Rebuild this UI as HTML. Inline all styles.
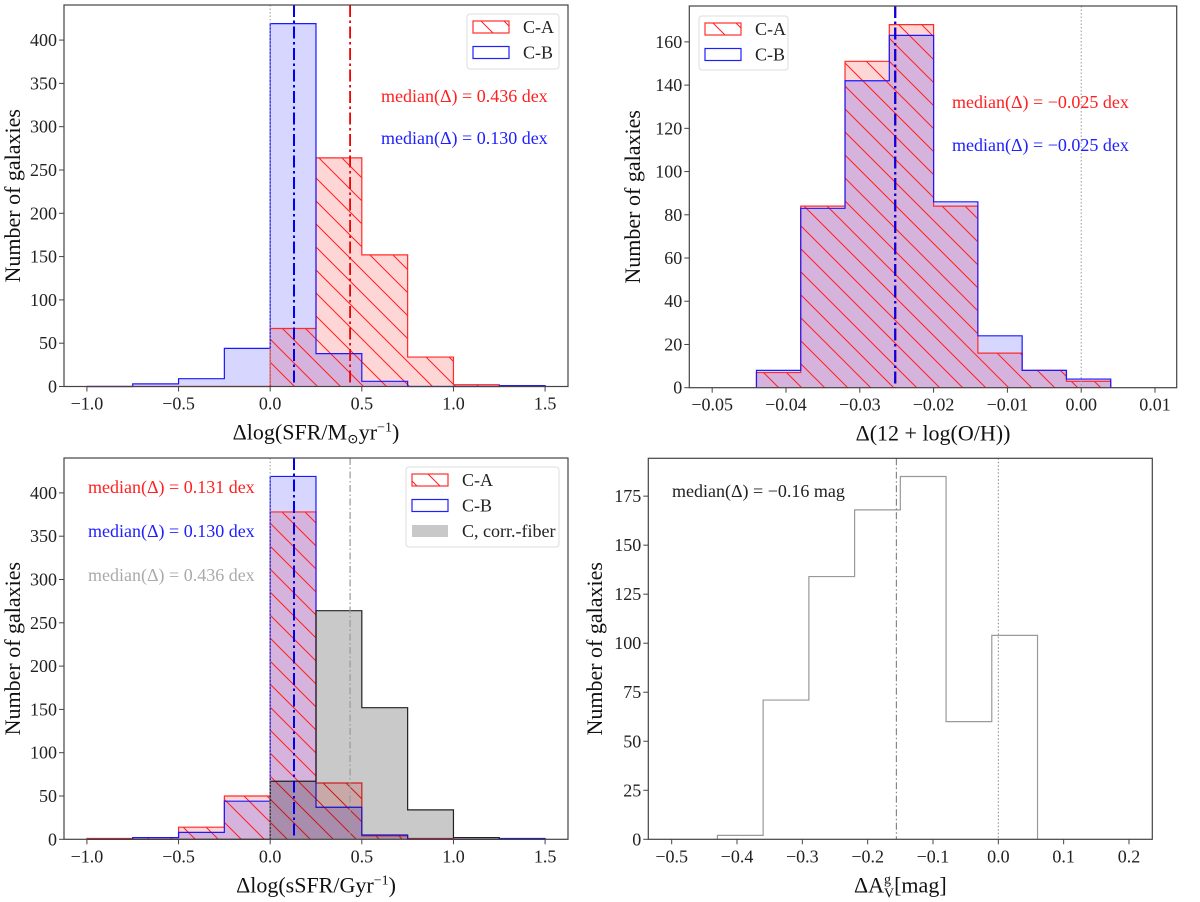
<!DOCTYPE html>
<html><head><meta charset="utf-8">
<style>
html,body{margin:0;padding:0;background:#fff;}
svg{display:block;font-family:"Liberation Serif","DejaVu Serif",serif;}
</style></head>
<body>
<svg id="fig" width="1200" height="902" viewBox="0 0 1200 902" xmlns="http://www.w3.org/2000/svg">
<defs>
<pattern id="hatch" patternUnits="userSpaceOnUse" width="23" height="23">
<path d="M-2,-2 L25,25 M-25,-2 L2,25 M21,-2 L48,25" stroke="#ff2020" stroke-width="1"/>
</pattern>
</defs>
</svg>
<script>
// ---------- Panel 1 data: Δlog(SFR) ----------
const p1Edges = [-1.0,-0.75,-0.5,-0.25,0.0,0.25,0.5,0.75,1.0,1.25,1.5];
const p1CA = [0,0,0,0,67,264,152,34,2,0];
const p1CB = [0,3,9,44,419,38,6,0,0,1];
const p1Medians = [0.436,0.130];
const p1XTicks = [-1.0,-0.5,0.0,0.5,1.0,1.5];
const p1YTicks = [0,50,100,150,200,250,300,350,400];
// ---------- Panel 2 data: Δ(12+log(O/H)) ----------
const p2Edges = [-0.044,-0.038,-0.032,-0.026,-0.020,-0.014,-0.008,-0.002,0.004];
const p2CA = [7,84,151,168,84,16,8,3];
const p2CB = [8,83,142,163,86,24,8,4];
const p2Medians = [-0.0252,-0.0252];
const p2XTicks = [-0.05,-0.04,-0.03,-0.02,-0.01,0.00,0.01];
const p2YTicks = [0,20,40,60,80,100,120,140,160];
// ---------- Panel 3 data: Δlog(sSFR) ----------
const p3Edges = [-1.0,-0.75,-0.5,-0.25,0.0,0.25,0.5,0.75,1.0,1.25,1.5];
const p3CA = [1,2,14,50,378,65,4,1,0,0];
const p3CB = [0,2,8,44,419,37,5,0,0,1];
const p3Fiber = [0,0,0,0,67,264,152,34,2,0];
const p3Medians = [0.131,0.130,0.436];
const p3XTicks = [-1.0,-0.5,0.0,0.5,1.0,1.5];
const p3YTicks = [0,50,100,150,200,250,300,350,400];
// ---------- Panel 4 data: ΔA_V ----------
const p4Edges = [-0.43,-0.36,-0.29,-0.22,-0.15,-0.08,-0.01,0.06];
const p4Counts = [2,71,134,168,185,60,104];
const p4Median = [-0.156];
const p4XTicks = [-0.5,-0.4,-0.3,-0.2,-0.1,0.0,0.1,0.2];
const p4YTicks = [0,25,50,75,100,125,150,175];

const svg = document.getElementById('fig');
const NS = 'http://www.w3.org/2000/svg';
function mk(tag, attrs, parent){
  const e = document.createElementNS(NS, tag);
  for (const k in attrs) e.setAttribute(k, attrs[k]);
  (parent||svg).appendChild(e);
  return e;
}
function fmt(v, d){ const s = Math.abs(v).toFixed(d); return (v < -1e-12 ? '\u2212' : '') + s; }

function makeAxes(box, xlim, ylim){
  return {
    box,
    x: v => box.l + (v - xlim[0]) / (xlim[1] - xlim[0]) * (box.r - box.l),
    y: v => box.b - (v - ylim[0]) / (ylim[1] - ylim[0]) * (box.b - box.t)
  };
}
function stepPath(ax, edges, counts){
  let d = 'M' + ax.x(edges[0]) + ',' + ax.y(0);
  for (let i = 0; i < counts.length; i++){
    d += ' L' + ax.x(edges[i]) + ',' + ax.y(counts[i]) + ' L' + ax.x(edges[i+1]) + ',' + ax.y(counts[i]);
  }
  d += ' L' + ax.x(edges[edges.length-1]) + ',' + ax.y(0);
  return d;
}
function drawHist(g, ax, edges, counts, fill, stroke, name, hatch){
  const d = stepPath(ax, edges, counts);
  if (fill){
    const f = mk('path', {d: d + ' Z', fill: fill, stroke: 'none'}, g);
    
    
  }
  if (hatch){
    const h = mk('path', {d: d + ' Z', fill: 'url(#hatch)', stroke: 'none'}, g);
    
    
  }
  if (stroke){
    const s = mk('path', {d: d, fill: 'none', stroke: stroke, 'stroke-width': 1.2}, g);
    
    
  }
}
function vline(g, ax, v, color, width, dash, name){
  const l = mk('line', {x1: ax.x(v), x2: ax.x(v), y1: ax.box.t, y2: ax.box.b, stroke: color, 'stroke-width': width, 'stroke-dasharray': dash}, g);
  
  
}
function frameAndTicks(g, ax, xt, yt, xd, xlabelHTML, ylabX){
  const b = ax.box;
  const fr = mk('rect', {x: b.l, y: b.t, width: b.r - b.l, height: b.b - b.t, fill: 'none', stroke: '#444', 'stroke-width': 1.2}, g);
  
  
  xt.forEach(v => {
    const X = ax.x(v);
    const t = mk('line', {x1: X, x2: X, y1: b.b, y2: b.b + 5, stroke: '#444', 'stroke-width': 1}, g);
    
    
    const lab = mk('text', {x: X, y: b.b + 23, 'font-size': 18, 'text-anchor': 'middle', fill: '#222'}, g);
    lab.textContent = fmt(v, xd);
    
    
  });
  yt.forEach(v => {
    const Y = ax.y(v);
    const t = mk('line', {x1: b.l - 5, x2: b.l, y1: Y, y2: Y, stroke: '#444', 'stroke-width': 1}, g);
    
    
    const lab = mk('text', {x: b.l - 7, y: Y + 6, 'font-size': 18, 'text-anchor': 'end', fill: '#222'}, g);
    lab.textContent = String(v);
    
    
  });
  const xl = mk('text', {x: (b.l + b.r)/2, y: b.b + 53, 'font-size': 22, 'text-anchor': 'middle', fill: '#111'}, g);
  xl.innerHTML = xlabelHTML;
  
  
  const cy = (b.t + b.b)/2;
  const yl = mk('text', {x: ylabX, y: cy, 'font-size': 22, 'text-anchor': 'middle', fill: '#111', transform: 'rotate(-90 ' + ylabX + ' ' + cy + ')'}, g);
  yl.textContent = 'Number of galaxies';
  
  
}
function label(g, x, y, txt, color, name, anchor){
  const t = mk('text', {x: x, y: y, 'font-size': 18, fill: color, 'text-anchor': anchor || 'start'}, g);
  t.textContent = txt;
  
  
}
function legend(g, x, y, w, h, entries){
  const r = mk('rect', {x: x, y: y, width: w, height: h, rx: 3, fill: 'rgba(255,255,255,0.85)', stroke: '#ddd', 'stroke-width': 1}, g);
  
  
  entries.forEach((e, i) => {
    const py = y + 7 + i * 25.5;
    const sw = mk('rect', {x: x + 6, y: py, width: 36, height: 12, fill: e.fill, stroke: e.stroke, 'stroke-width': 1.2}, g);
    
    
    if (e.hatch){
      const hs = mk('rect', {x: x + 6, y: py, width: 36, height: 12, fill: 'url(#hatch)', stroke: 'none'}, g);
      
      
    }
    const t = mk('text', {x: x + 56, y: py + 12, 'font-size': 18, fill: '#222'}, g);
    t.textContent = e.text;
    
    
  });
}
const RED_FILL = 'rgba(255,0,0,0.16)', BLUE_FILL = 'rgba(0,0,255,0.16)';
const DASHDOT = '12,3.5,2.5,3.5';

// Panel 1
(function(){
  const g = mk('g', {});  
  const ax = makeAxes({l:64, r:568, t:5, b:386.5}, [-1.125, 1.625], [0, 440.5]);
  drawHist(g, ax, p1Edges, p1CA, RED_FILL, null, 'hist-ca');
  drawHist(g, ax, p1Edges, p1CB, BLUE_FILL, null, 'hist-cb');
  drawHist(g, ax, p1Edges, p1CA, null, null, 'hist-ca', true);
  drawHist(g, ax, p1Edges, p1CA, null, '#ff2a2a', 'hist-ca');
  drawHist(g, ax, p1Edges, p1CB, null, '#1a1aff', 'hist-cb');
  vline(g, ax, 0, '#999', 1, '1.5,2', 'zero-line');
  vline(g, ax, p1Medians[0], '#ee0000', 1.8, DASHDOT, 'median-ca-line');
  vline(g, ax, p1Medians[1], '#0000ee', 2, DASHDOT, 'median-cb-line');
  frameAndTicks(g, ax, p1XTicks, p1YTicks, 1, '\u0394log(SFR/M<tspan font-size="14" dy="4">\u2299</tspan><tspan dy="-4">yr</tspan><tspan font-size="14" dy="-8">\u22121</tspan><tspan dy="8">)</tspan>', 20);
  legend(g, 467, 14, 92, 55, [{text:'C-A', fill:'#fff', stroke:'#ff3030', hatch:true},{text:'C-B', fill:'#fff', stroke:'#2020ff'}]);
  label(g, 381, 102, 'median(\u0394) = ' + p1Medians[0].toFixed(3) + ' dex', '#ff2020', 'median-ca-label');
  label(g, 381, 144, 'median(\u0394) = ' + p1Medians[1].toFixed(3) + ' dex', '#2020ff', 'median-cb-label');
})();

// Panel 2
(function(){
  const g = mk('g', {});  
  const ax = makeAxes({l:689.3, r:1176.7, t:6, b:387.7}, [-0.0531, 0.01294], [0, 176.6]);
  drawHist(g, ax, p2Edges, p2CA, RED_FILL, null, 'hist-ca');
  drawHist(g, ax, p2Edges, p2CB, BLUE_FILL, null, 'hist-cb');
  drawHist(g, ax, p2Edges, p2CA, null, null, 'hist-ca', true);
  drawHist(g, ax, p2Edges, p2CA, null, '#ff2a2a', 'hist-ca');
  drawHist(g, ax, p2Edges, p2CB, null, '#1a1aff', 'hist-cb');
  vline(g, ax, 0, '#999', 1, '1.5,2', 'zero-line');
  vline(g, ax, p2Medians[0], '#cc0000', 2.2, DASHDOT, 'median-ca-line');
  vline(g, ax, p2Medians[1], '#0000ee', 2, DASHDOT, 'median-cb-line');
  frameAndTicks(g, ax, p2XTicks, p2YTicks, 2, '\u0394(12 + log(O/H))', 640);
  legend(g, 699, 16, 89, 54, [{text:'C-A', fill:'#fff', stroke:'#ff3030', hatch:true},{text:'C-B', fill:'#fff', stroke:'#2020ff'}]);
  label(g, 952, 108, 'median(\u0394) = \u22120.025 dex', '#ff2020', 'median-ca-label');
  label(g, 952, 151, 'median(\u0394) = \u22120.025 dex', '#2020ff', 'median-cb-label');
})();

// Panel 3
(function(){
  const g = mk('g', {});  
  const ax = makeAxes({l:64, r:568, t:458, b:839.3}, [-1.125, 1.625], [0, 440.3]);
  drawHist(g, ax, p3Edges, p3CA, RED_FILL, null, 'hist-ca');
  drawHist(g, ax, p3Edges, p3CB, BLUE_FILL, null, 'hist-cb');
  drawHist(g, ax, p3Edges, p3CA, null, null, 'hist-ca', true);
  drawHist(g, ax, p3Edges, p3CA, null, '#ff2a2a', 'hist-ca');
  drawHist(g, ax, p3Edges, p3CB, null, '#1a1aff', 'hist-cb');
  drawHist(g, ax, p3Edges, p3Fiber, 'rgba(0,0,0,0.21)', '#222', 'hist-fiber');
  vline(g, ax, 0, '#999', 1, '1.5,2', 'zero-line');
  vline(g, ax, p3Medians[2], '#999', 1.2, '7,2.5,1.5,2.5', 'median-fiber-line');
  vline(g, ax, p3Medians[1], '#0000ee', 2, DASHDOT, 'median-cb-line');
  frameAndTicks(g, ax, p3XTicks, p3YTicks, 1, '\u0394log(sSFR/Gyr<tspan font-size="14" dy="-8">\u22121</tspan><tspan dy="8">)</tspan>', 20);
  legend(g, 406, 467, 153, 80, [{text:'C-A', fill:'#fff', stroke:'#ff3030', hatch:true},{text:'C-B', fill:'#fff', stroke:'#2020ff'},{text:'C, corr.-fiber', fill:'#c8c8c8', stroke:'none'}]);
  label(g, 88, 493, 'median(\u0394) = ' + p3Medians[0].toFixed(3) + ' dex', '#ff2020', 'median-ca-label');
  label(g, 88, 537, 'median(\u0394) = ' + p3Medians[1].toFixed(3) + ' dex', '#2020ff', 'median-cb-label');
  label(g, 88, 581, 'median(\u0394) = ' + p3Medians[2].toFixed(3) + ' dex', '#aaaaaa', 'median-fiber-label');
})();

// Panel 4
(function(){
  const g = mk('g', {});  
  const ax = makeAxes({l:648.3, r:1152.3, t:458.3, b:839.3}, [-0.5358, 0.2357], [0, 194.3]);
  drawHist(g, ax, p4Edges, p4Counts, null, '#999', 'hist-av');
  vline(g, ax, 0, '#888', 1, '1.5,2', 'zero-line');
  vline(g, ax, p4Median[0], '#888', 1.2, '7,2.5,1.5,2.5', 'median-line');
  frameAndTicks(g, ax, p4XTicks, p4YTicks, 1, '\u0394A<tspan font-size="14" dy="-9">g</tspan><tspan font-size="14" dx="-7" dy="14">V</tspan><tspan dy="-5">[mag]</tspan>', 602);
  label(g, 672, 497, 'median(\u0394) = \u22120.16 mag', '#222', 'median-label');
})();
</script>
</body></html>
